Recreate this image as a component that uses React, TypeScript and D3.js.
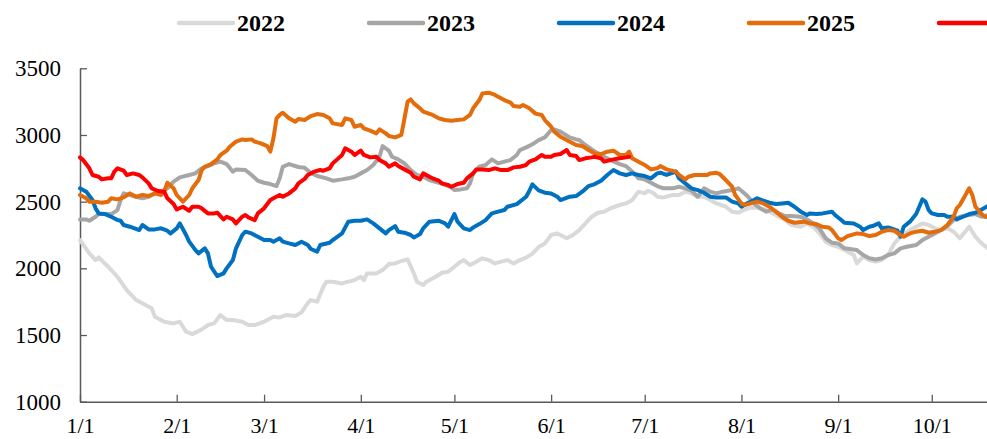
import { useEffect, useRef } from 'react'
import * as d3 from 'd3'

// x = day of year (0 = Jan 1), y = price
const monthStarts = [0, 31, 59, 90, 120, 151, 181, 212, 243, 273]
const monthLabels = ['1/1', '2/1', '3/1', '4/1', '5/1', '6/1', '7/1', '8/1', '9/1', '10/1']
const yTicks = [1000, 1500, 2000, 2500, 3000, 3500]

const s2022: [number, number][] = [
  [0, 2212], [3, 2112], [5, 2062], [6, 2082], [9, 2012], [12, 1937], [15, 1837], [18, 1762], [21, 1725], [23, 1700],
  [24, 1637], [27, 1600], [30, 1587], [32, 1600], [34, 1525], [36, 1507], [39, 1542], [41, 1575], [43, 1587], [45, 1650],
  [47, 1612], [49, 1612], [52, 1600], [54, 1575], [56, 1575], [59, 1600], [62, 1637], [64, 1632], [66, 1650], [69, 1642],
  [71, 1670], [73, 1740], [74, 1762], [76, 1750], [78, 1862], [79, 1900], [81, 1900], [84, 1887], [86, 1900], [88, 1912],
  [90, 1937], [91, 1912], [92, 1962], [95, 1962], [97, 1987], [99, 2032], [101, 2037], [103, 2055], [105, 2067], [107, 1962],
  [108, 1900], [110, 1875], [111, 1900], [114, 1937], [116, 1967], [118, 1975], [120, 2012], [122, 2050], [123, 2062], [125, 2025],
  [126, 2037], [129, 2075], [131, 2062], [133, 2037], [135, 2050], [137, 2062], [139, 2037], [141, 2062], [143, 2080], [145, 2110],
  [147, 2160], [149, 2187], [151, 2250], [153, 2262], [156, 2225], [158, 2250], [160, 2287], [162, 2337], [164, 2387], [166, 2417],
  [168, 2425], [170, 2450], [173, 2475], [175, 2487], [177, 2512], [179, 2575], [181, 2562], [182, 2582], [184, 2562], [185, 2537],
  [187, 2532], [190, 2550], [192, 2550], [194, 2575], [196, 2562], [198, 2537], [200, 2537], [202, 2512], [204, 2487], [207, 2462],
  [209, 2425], [211, 2417], [213, 2440], [215, 2455], [217, 2455], [220, 2437], [223, 2400], [226, 2362], [228, 2325], [231, 2312],
  [233, 2337], [235, 2312], [237, 2262], [239, 2200], [241, 2175], [243, 2162], [245, 2137], [248, 2100], [249, 2037], [251, 2087],
  [253, 2062], [255, 2050], [257, 2062], [259, 2100], [261, 2187], [263, 2237], [266, 2287], [268, 2312], [270, 2337], [272, 2325],
  [274, 2300], [276, 2287], [278, 2300], [280, 2275], [282, 2225], [285, 2312], [287, 2237], [289, 2187], [291, 2150],
]

const s2023: [number, number][] = [
  [0, 2367], [2, 2367], [3, 2357], [5, 2387], [6, 2407], [8, 2407], [10, 2407], [12, 2437], [13, 2512], [14, 2562],
  [16, 2550], [18, 2537], [20, 2525], [22, 2537], [24, 2562], [26, 2575], [28, 2600], [30, 2650], [32, 2682], [35, 2700],
  [37, 2712], [39, 2750], [41, 2767], [43, 2787], [45, 2800], [47, 2782], [49, 2725], [50, 2742], [53, 2737], [55, 2700],
  [57, 2657], [59, 2642], [61, 2632], [63, 2617], [64, 2675], [65, 2762], [67, 2782], [70, 2760], [72, 2755], [74, 2715],
  [76, 2692], [79, 2675], [81, 2657], [84, 2667], [86, 2675], [88, 2687], [90, 2712], [92, 2737], [94, 2775], [96, 2837],
  [97, 2917], [99, 2882], [100, 2837], [102, 2817], [104, 2787], [106, 2737], [108, 2700], [110, 2687], [112, 2662], [115, 2642],
  [117, 2625], [119, 2607], [120, 2587], [122, 2592], [124, 2600], [125, 2637], [126, 2712], [128, 2762], [130, 2775], [132, 2817],
  [134, 2787], [136, 2800], [138, 2812], [140, 2850], [141, 2887], [143, 2907], [145, 2930], [147, 2962], [149, 2982], [151, 3037],
  [152, 3042], [154, 3025], [157, 2982], [159, 2967], [160, 2962], [162, 2925], [164, 2892], [166, 2862], [168, 2837], [170, 2812],
  [173, 2782], [175, 2767], [177, 2725], [179, 2675], [181, 2667], [183, 2642], [185, 2617], [187, 2600], [190, 2600], [192, 2612],
  [194, 2600], [196, 2582], [198, 2537], [200, 2600], [202, 2575], [204, 2562], [206, 2575], [209, 2587], [211, 2600], [212, 2582],
  [214, 2540], [216, 2487], [218, 2450], [220, 2425], [222, 2442], [224, 2412], [226, 2392], [228, 2392], [231, 2387], [233, 2367],
  [235, 2337], [237, 2300], [239, 2225], [241, 2192], [243, 2187], [245, 2150], [249, 2137], [251, 2100], [253, 2075], [255, 2067],
  [257, 2075], [259, 2100], [261, 2112], [263, 2150], [265, 2162], [268, 2175], [270, 2212], [272, 2237], [274, 2262], [276, 2287],
  [278, 2317], [280, 2362], [282, 2387], [285, 2400], [287, 2407], [289, 2387], [291, 2400],
]

const s2024: [number, number][] = [
  [0, 2600], [2, 2575], [4, 2512], [5, 2450], [6, 2412], [8, 2407], [10, 2387], [12, 2362], [13, 2357], [14, 2325],
  [16, 2312], [19, 2287], [20, 2325], [22, 2292], [24, 2292], [26, 2300], [28, 2282], [29, 2262], [31, 2300], [32, 2337],
  [34, 2250], [35, 2200], [37, 2137], [38, 2112], [40, 2150], [41, 2112], [42, 2012], [44, 1942], [46, 1962], [47, 2000],
  [49, 2062], [50, 2150], [52, 2250], [53, 2275], [55, 2262], [57, 2237], [59, 2212], [61, 2212], [62, 2200], [64, 2225],
  [65, 2200], [67, 2187], [69, 2175], [71, 2200], [73, 2175], [74, 2145], [76, 2125], [77, 2175], [80, 2192], [81, 2212],
  [84, 2262], [86, 2350], [88, 2357], [90, 2357], [92, 2367], [94, 2337], [96, 2300], [98, 2262], [99, 2287], [101, 2317],
  [102, 2275], [104, 2267], [106, 2250], [107, 2232], [109, 2257], [110, 2300], [112, 2350], [115, 2357], [117, 2337], [118, 2312],
  [120, 2407], [121, 2350], [123, 2300], [125, 2287], [126, 2307], [128, 2332], [130, 2362], [132, 2412], [134, 2425], [136, 2437],
  [137, 2462], [140, 2482], [141, 2500], [143, 2537], [144, 2580], [145, 2630], [147, 2585], [149, 2567], [151, 2562], [153, 2537],
  [154, 2512], [157, 2537], [159, 2542], [161, 2575], [163, 2617], [165, 2632], [167, 2657], [169, 2700], [171, 2737], [173, 2712],
  [175, 2700], [177, 2712], [179, 2700], [181, 2692], [183, 2675], [185, 2712], [186, 2717], [188, 2700], [191, 2725], [192, 2675],
  [194, 2637], [196, 2600], [198, 2587], [200, 2567], [202, 2537], [204, 2532], [207, 2532], [209, 2500], [211, 2487], [212, 2462],
  [214, 2490], [216, 2512], [217, 2525], [219, 2507], [221, 2492], [223, 2482], [225, 2487], [227, 2492], [229, 2462], [231, 2425],
  [233, 2400], [234, 2412], [236, 2407], [238, 2412], [241, 2425], [242, 2400], [244, 2362], [245, 2342], [248, 2337], [250, 2312],
  [251, 2287], [253, 2312], [254, 2317], [256, 2337], [257, 2300], [259, 2307], [260, 2300], [262, 2282], [263, 2237], [264, 2312],
  [266, 2350], [268, 2407], [269, 2462], [270, 2517], [271, 2500], [272, 2437], [273, 2412], [275, 2400], [277, 2400], [278, 2387],
  [280, 2387], [281, 2367], [283, 2387], [285, 2407], [287, 2417], [289, 2442], [291, 2467],
]

const s2025: [number, number][] = [
  [0, 2550], [2, 2525], [3, 2500], [5, 2500], [7, 2492], [9, 2500], [10, 2525], [12, 2517], [14, 2532], [16, 2562],
  [18, 2537], [20, 2550], [22, 2542], [24, 2562], [26, 2550], [27, 2575], [28, 2642], [30, 2600], [31, 2550], [33, 2500],
  [35, 2550], [36, 2600], [38, 2662], [39, 2737], [40, 2762], [42, 2782], [44, 2817], [45, 2850], [47, 2882], [48, 2912],
  [50, 2950], [52, 2967], [53, 2962], [55, 2967], [56, 2950], [58, 2937], [60, 2917], [61, 2875], [62, 2975], [63, 3125],
  [64, 3150], [65, 3167], [67, 3125], [69, 3100], [70, 3120], [72, 3112], [74, 3142], [76, 3157], [78, 3150], [80, 3125],
  [81, 3087], [84, 3075], [85, 3125], [87, 3112], [88, 3062], [90, 3075], [91, 3050], [93, 3032], [95, 3012], [96, 3042],
  [98, 3012], [99, 2992], [101, 2982], [103, 3000], [104, 3125], [105, 3250], [106, 3267], [107, 3237], [109, 3200], [110, 3175],
  [113, 3150], [115, 3125], [117, 3112], [119, 3107], [121, 3112], [123, 3117], [125, 3150], [126, 3200], [128, 3262], [129, 3312],
  [131, 3317], [133, 3300], [134, 3287], [136, 3262], [138, 3242], [139, 3217], [141, 3212], [142, 3225], [144, 3200], [146, 3160],
  [148, 3150], [149, 3112], [151, 3062], [152, 3025], [154, 2987], [157, 2950], [159, 2925], [161, 2917], [163, 2887], [165, 2862],
  [167, 2857], [169, 2875], [171, 2882], [173, 2850], [175, 2850], [176, 2875], [177, 2825], [179, 2800], [181, 2775], [183, 2742],
  [185, 2750], [186, 2767], [188, 2742], [191, 2725], [192, 2700], [194, 2667], [195, 2687], [197, 2700], [199, 2700], [201, 2700],
  [202, 2712], [204, 2717], [205, 2707], [207, 2662], [209, 2612], [210, 2550], [212, 2487], [213, 2475], [215, 2487], [217, 2500],
  [219, 2487], [221, 2462], [223, 2425], [225, 2387], [227, 2357], [229, 2342], [232, 2350], [234, 2337], [236, 2332], [238, 2312],
  [240, 2307], [241, 2287], [243, 2225], [244, 2212], [246, 2242], [249, 2262], [251, 2257], [253, 2242], [255, 2250], [257, 2275],
  [259, 2287], [261, 2282], [263, 2250], [264, 2237], [266, 2262], [268, 2275], [270, 2282], [272, 2267], [274, 2275], [276, 2287],
  [278, 2325], [280, 2387], [281, 2450], [282, 2475], [285, 2600], [286, 2550], [287, 2462], [289, 2407], [290, 2387], [292, 2380],
]

const s2026: [number, number][] = [
  [0, 2832], [1, 2812], [3, 2750], [4, 2700], [6, 2687], [7, 2667], [9, 2675], [10, 2675], [11, 2725], [12, 2750],
  [14, 2732], [15, 2700], [17, 2712], [19, 2700], [20, 2682], [22, 2637], [23, 2600], [25, 2580], [27, 2575], [28, 2525],
  [30, 2482], [31, 2442], [33, 2462], [35, 2432], [36, 2462], [38, 2462], [39, 2450], [41, 2412], [43, 2412], [44, 2417],
  [46, 2367], [47, 2387], [49, 2367], [50, 2337], [52, 2387], [53, 2400], [54, 2382], [56, 2362], [57, 2412], [59, 2450],
  [61, 2512], [62, 2525], [64, 2550], [65, 2537], [67, 2562], [69, 2600], [70, 2637], [72, 2670], [73, 2700], [75, 2725],
  [77, 2737], [78, 2732], [80, 2750], [81, 2787], [84, 2850], [85, 2900], [87, 2875], [88, 2850], [90, 2882], [91, 2850],
  [93, 2832], [95, 2837], [96, 2812], [98, 2787], [99, 2762], [101, 2787], [102, 2767], [104, 2742], [106, 2717], [107, 2687],
  [109, 2667], [110, 2712], [112, 2687], [113, 2675], [115, 2657], [116, 2637], [118, 2625], [119, 2612], [121, 2632], [123, 2642],
  [124, 2675], [126, 2712], [127, 2742], [129, 2742], [131, 2737], [133, 2750], [135, 2737], [137, 2737], [139, 2757], [141, 2762],
  [143, 2775], [144, 2800], [146, 2817], [148, 2850], [149, 2837], [151, 2837], [152, 2850], [154, 2857], [156, 2887], [157, 2850],
  [159, 2842], [160, 2812], [162, 2825], [164, 2832], [165, 2837], [167, 2825], [168, 2800], [170, 2812], [171, 2817], [173, 2825],
  [175, 2832], [176, 2837],
]

const seriesNames = ['2022', '2023', '2024', '2025', '']
const seriesData = [s2022, s2023, s2024, s2025, s2026]
const seriesColors = ['#D9D9D9', '#A6A6A6', '#0070C0', '#E46C0A', '#FF0000']

const W = 987
const H = 439

export default function App() {
  const svgRef = useRef<SVGSVGElement>(null)

  useEffect(() => {
    if (!svgRef.current) return
    const svg = d3.select(svgRef.current)
    svg.selectAll('*').remove()

    const x0 = 80
    const pxPerDay = 3.12
    const x = d3.scaleLinear().domain([0, 365]).range([x0, x0 + 365 * pxPerDay])
    const y = d3.scaleLinear().domain([1000, 3500]).range([401.7, 68.3])

    const axisColor = '#595959'
    const font = '"Liberation Serif", "Times New Roman", serif'

    // x axis
    const gx = svg
      .append('g')
      .attr('transform', `translate(0,${y(1000)})`)
      .call(
        d3
          .axisBottom(x)
          .tickValues(monthStarts)
          .tickFormat((_, i) => monthLabels[i])
          .tickSizeInner(-7)
          .tickSizeOuter(0)
          .tickPadding(16)
      )
    gx.select('.domain').attr('stroke', axisColor).attr('stroke-width', 1.5)
    gx.selectAll('.tick line').attr('stroke', axisColor).attr('stroke-width', 1.3)
    gx.selectAll('.tick text').attr('fill', '#000').attr('font-family', font).attr('font-size', 22)

    // y axis
    const gy = svg
      .append('g')
      .attr('transform', `translate(${x0},0)`)
      .call(
        d3
          .axisLeft(y)
          .tickValues(yTicks)
          .tickFormat(d3.format('d'))
          .tickSizeInner(-7)
          .tickSizeOuter(0)
          .tickPadding(19)
      )
    gy.select('.domain').attr('stroke', axisColor).attr('stroke-width', 1.5)
    gy.selectAll('.tick line').attr('stroke', axisColor).attr('stroke-width', 1.3)
    gy.selectAll('.tick text').attr('fill', '#000').attr('font-family', font).attr('font-size', 23)

    // series
    const line = d3
      .line<[number, number]>()
      .x((d) => x(d[0]))
      .y((d) => y(d[1]))

    seriesData.forEach((data, i) => {
      svg
        .append('path')
        .datum(data)
        .attr('d', line)
        .attr('fill', 'none')
        .attr('stroke', seriesColors[i])
        .attr('stroke-width', 4)
        .attr('stroke-linejoin', 'round')
        .attr('stroke-linecap', 'round')
    })

    // legend (last entry's label falls outside the picture)
    const legend = svg.append('g').attr('transform', 'translate(179,23)')
    seriesNames.forEach((name, i) => {
      const item = legend.append('g').attr('transform', `translate(${i * 190},0)`)
      item
        .append('line')
        .attr('x1', 0)
        .attr('x2', 54)
        .attr('stroke', seriesColors[i])
        .attr('stroke-width', 4.5)
        .attr('stroke-linecap', 'round')
      if (name) {
        item
          .append('text')
          .attr('x', 58)
          .attr('y', 8)
          .attr('font-family', font)
          .attr('font-weight', 'bold')
          .attr('font-size', 24)
          .attr('fill', '#000')
          .text(name)
      }
    })
  }, [])

  return (
    <svg
      ref={svgRef}
      width={W}
      height={H}
      style={{ position: 'absolute', left: 0, top: 0, background: '#fff' }}
    />
  )
}
